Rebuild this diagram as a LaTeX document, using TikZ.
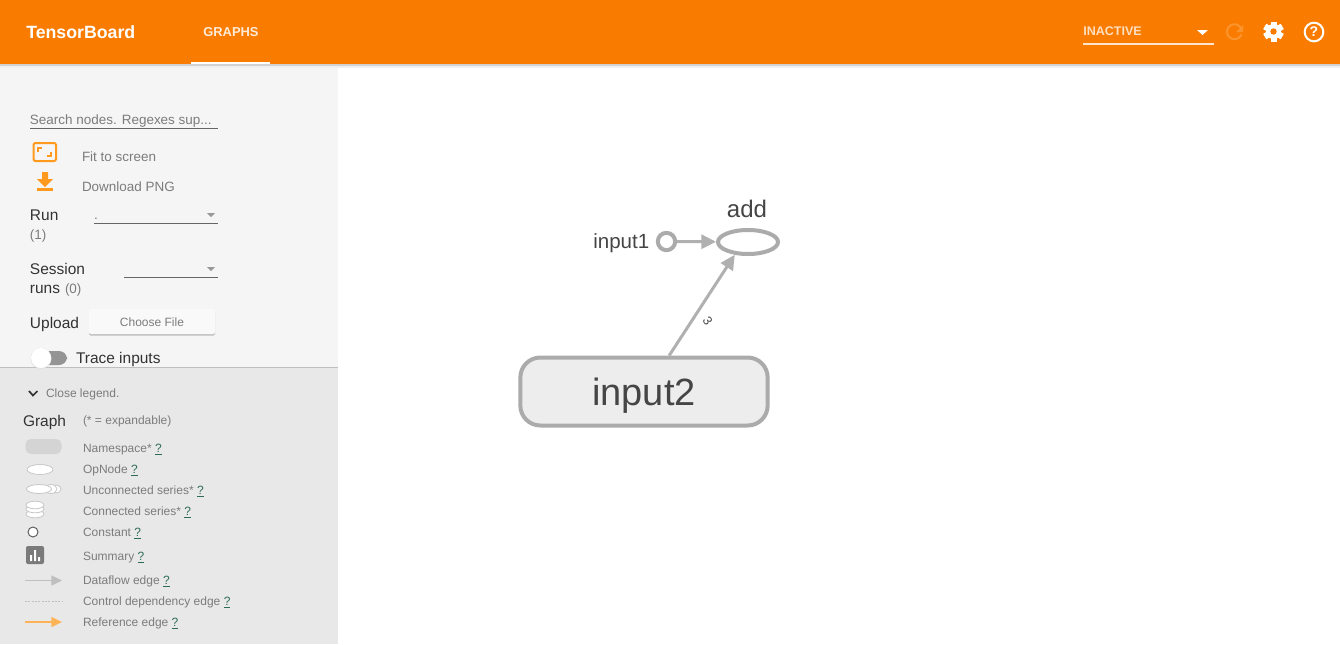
\documentclass[tikz,border=0pt]{standalone}
\usepackage{fontspec}
\setmainfont{Liberation Sans}
\usetikzlibrary{arrows.meta,shapes.geometric,positioning,calc}
\definecolor{barorange}{HTML}{F97C00}
\definecolor{iconorange}{HTML}{FF9A1F}
\definecolor{panelgray}{HTML}{F5F5F5}
\definecolor{legendgray}{HTML}{E8E8E8}
\definecolor{edgegray}{HTML}{B0B0B0}
\definecolor{nodegray}{HTML}{ABABAB}
\definecolor{labelgray}{HTML}{7C7C7C}
\definecolor{darktext}{HTML}{333333}
\definecolor{graphtext}{HTML}{454545}
\definecolor{linkgreen}{HTML}{2E6B57}
\newcommand{\pxfont}[1]{\fontsize{#1}{#1}\selectfont}
\newcommand{\qmark}{\textcolor{linkgreen}{\underline{?}}}
\begin{document}
\begin{tikzpicture}[
    x=0.75pt, y=-0.75pt,
    txt/.style={anchor=base west, inner sep=0pt, outer sep=0pt, text=labelgray, font=\pxfont{9}},
    sidetxt/.style={txt, text=darktext, font=\pxfont{11.6}},
    small/.style={txt, font=\pxfont{10.1}},
    bartxt/.style={anchor=base west, inner sep=0pt, text=white, font=\bfseries\pxfont{9.7}},
    graphlbl/.style={inner sep=0pt, text=graphtext},
    arr/.style={-{Triangle[length=11pt, width=10.5pt]}, line width=2.25pt, draw=edgegray},
    opnode/.style={ellipse, draw=nodegray, line width=3pt, fill=white, minimum width=45pt, minimum height=18pt, inner sep=0pt},
    constnode/.style={circle, draw=nodegray, line width=3pt, fill=white, minimum size=13pt, inner sep=0pt},
    nsnode/.style={rectangle, rounded corners=15pt, draw=nodegray, line width=3pt, fill=black!7, minimum width=185.5pt, minimum height=51pt, inner sep=0pt},
    legline/.style={line width=1pt, draw=#1}
]
\useasboundingbox (0,0) rectangle (1340,644);
\fill[white] (0,0) rectangle (1340,644);

% side panels
\fill[panelgray] (0,64) rectangle (338,367);
\fill[legendgray] (0,367) rectangle (338,644);
\draw[black!25, line width=0.6pt] (0,367) -- (338,367);

% top bar
\fill[black!6] (0,64) rectangle (1340,68);
\fill[black!18] (0,64) rectangle (1340,66);
\fill[barorange] (0,0) rectangle (1340,64);
\node[bartxt, font=\bfseries\pxfont{13.3}] (title) at (26,38) {TensorBoard};
\node[bartxt, text=white!85!barorange] (graphs) at (203,36.5) {GRAPHS};
\fill[white] (191,62) rectangle (270,64);
\node[bartxt, font=\bfseries\pxfont{9.4}, text=white!75!barorange] (inactive) at (1083,35) {INACTIVE};
\draw[white!80!barorange, line width=0.8pt] (1083,44) -- (1214,44);
\fill[white] (1197,30) -- (1208,30) -- (1202.5,35) -- cycle;
% refresh
\draw[white!18!barorange, line width=1.5pt] (1241,28) arc (-30:-340:7.5);
\fill[white!18!barorange] (1243,25) -- (1243,32) -- (1236,32) -- cycle;
% settings
\foreach \a in {0,60,...,300} {
  \fill[white, shift={(1273.5,31.5)}, rotate=\a] (-3,-10) rectangle (3,10);
}
\fill[white] (1273.5,31.5) circle (7.5);
\fill[barorange] (1273.5,31.5) circle (3.2);
% help
\node[circle, draw=white, line width=1.5pt, minimum size=14pt, inner sep=0pt, text=white, font=\bfseries\pxfont{10.5}] (help) at (1314,32) {?};

% search and buttons
\node[small] (search) at (30,124) {Search nodes. Regexes sup...};
\draw[black!60, line width=0.6pt] (30,128.5) -- (218,128.5);
\draw[iconorange, line width=1.5pt, rounded corners=1.5pt] (33.5,143) rectangle (56,161);
\draw[iconorange, line width=1.3pt] (38,152) -- (38,148) -- (42,148) (51,152) -- (51,156) -- (47,156);
\node[small] (fit) at (82,161) {Fit to screen};
\fill[iconorange] (42,172) rectangle (48,179) -- (53,179) -- (45,187) -- (37,179) -- (42,179) -- cycle;
\fill[iconorange] (37,188) rectangle (53,190.5);
\node[small] (png) at (82,191) {Download PNG};

% run
\node[sidetxt] (run) at (30,220) {Run};
\node[small] (runcount) at (30,239) {(1)};
\node[small] (rundot) at (94,219) {.};
\draw[black!60, line width=0.6pt] (94,223) -- (218,223);
\fill[black!40] (207,213) -- (215,213) -- (211,217) -- cycle;
\node[sidetxt] (session) at (30,274) {Session};
\node[sidetxt] (runs) at (30,293) {runs};
\node[small] (sesscount) at (65,293) {(0)};
\draw[black!60, line width=0.6pt] (124,277) -- (218,277);
\fill[black!40] (207,267) -- (215,267) -- (211,271) -- cycle;
\node[sidetxt] (upload) at (30,328) {Upload};
\fill[black!25, rounded corners=1pt] (89,311) rectangle (215,335.5);
\fill[panelgray!60!white, rounded corners=1pt] (89,309) rectangle (215,334);
\node[txt, anchor=base, font=\pxfont{9}] (choose) at (152,326) {Choose File};
\fill[black!42, rounded corners=6pt] (34,351) rectangle (67,365);
\fill[black!12] (41,358.5) circle (10.5);
\fill[white] (41,358) circle (10);
\node[sidetxt] (trace) at (76,363) {Trace inputs};

% legend
\draw[darktext, line width=1.3pt] (29,391) -- (33,395.5) -- (37.5,391);
\node[txt] (close) at (46,397) {Close legend.};
\node[sidetxt] (graph) at (23,426) {Graph};
\node[txt] (expand) at (83,424) {(* = expandable)};
\node[txt] (nstxt) at (83,452) {Namespace* \qmark};
\node[txt] (optxt) at (83,473) {OpNode \qmark};
\node[txt] (untxt) at (83,494) {Unconnected series* \qmark};
\node[txt] (contxt) at (83,515) {Connected series* \qmark};
\node[txt] (csttxt) at (83,536) {Constant \qmark};
\node[txt] (sumtxt) at (83,560) {Summary \qmark};
\node[txt] (flowtxt) at (83,584) {Dataflow edge \qmark};
\node[txt] (ctrltxt) at (83,605) {Control dependency edge \qmark};
\node[txt] (reftxt) at (83,626) {Reference edge \qmark};

\fill[black!17] (25.5,439) [rounded corners=4pt] rectangle (61.5,454);
\draw[black!22, line width=0.6pt, fill=white] (40,469.5) ellipse (13 and 5);
\draw[black!22, line width=0.6pt, fill=white] (56,489) ellipse (5 and 4);
\draw[black!22, line width=0.6pt, fill=white] (51,489) ellipse (6 and 4.5);
\draw[black!22, line width=0.6pt, fill=white] (39,489) ellipse (12.5 and 4.5);
\foreach \y in {514,509,505} {
  \draw[black!22, line width=0.6pt, fill=white] (35,\y) ellipse (9 and 3.8);
}
\draw[black!65, line width=0.7pt, fill=white] (33,532) circle (5);
\fill[black!52, rounded corners=1.5pt] (26,546) rectangle (44,564);
\fill[white] (30,555) rectangle (32,561) (34,550) rectangle (36,561) (38,557) rectangle (40,561);

\coordinate (flowa) at (25,580.5);
\coordinate (flowb) at (62,580.5);
\coordinate (ctrla) at (25,601);
\coordinate (ctrlb) at (62,601);
\coordinate (refa) at (25,622);
\coordinate (refb) at (62,622);
\draw[-{Triangle[length=8pt, width=7.5pt]}, legline=black!25] (flowa) -- (flowb);
\draw[legline=black!25, line width=0.5pt, dash pattern=on 1.5pt off 1pt] (ctrla) -- (ctrlb);
\draw[-{Triangle[length=8pt, width=7.5pt]}, legline=iconorange!75] (refa) -- (refb);

% graph
\node[opnode] (add) at (748,242) {};
\node[graphlbl, font=\pxfont{18}] (addlbl) at (747,209) {add};
\node[constnode] (input1) at (666.5,241.5) {};
\node[graphlbl, anchor=east, font=\pxfont{15.4}] (input1lbl) at (649.5,243.5) {input1};
\node[nsnode] (input2) at (644,391.5) {};
\node[graphlbl, font=\pxfont{28.5}] (input2lbl) at (644,396) {input2};

\draw[arr] (input1) -- (add);
\draw[arr] (input2.55) -- (add.224) node[pos=0.38, right=8pt, rotate=-56, inner sep=0pt, text=graphtext, font=\pxfont{9.5}] (edgelbl) {3};
\end{tikzpicture}
\end{document}
